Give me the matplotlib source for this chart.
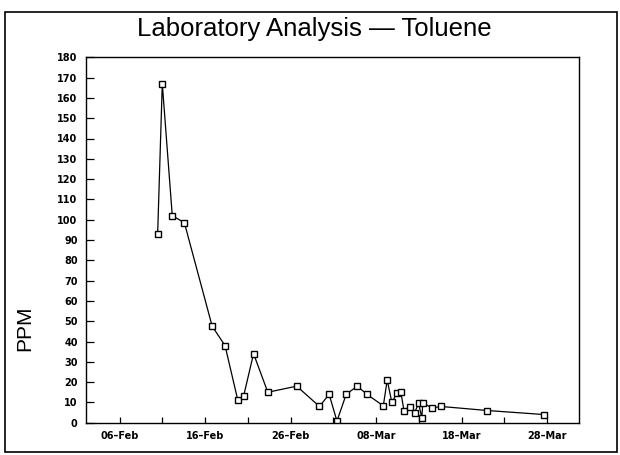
import numpy as np
import matplotlib
matplotlib.use("Agg")
import matplotlib.pyplot as plt
import matplotlib.dates as mdates
from matplotlib.patches import Rectangle
from matplotlib.ticker import FuncFormatter, MultipleLocator

# Sample times and toluene concentration in PPM
sample_times = [
    "1991-02-10 11:00", "1991-02-11 00:00", "1991-02-12 04:00", "1991-02-13 14:00",
    "1991-02-16 20:00", "1991-02-18 08:00", "1991-02-19 20:00", "1991-02-20 12:00",
    "1991-02-21 16:00", "1991-02-23 08:00", "1991-02-26 17:00", "1991-03-01 09:00",
    "1991-03-02 12:00", "1991-03-03 10:00", "1991-03-04 12:00", "1991-03-05 19:00",
    "1991-03-06 22:00", "1991-03-08 20:00", "1991-03-09 07:00", "1991-03-09 20:00",
    "1991-03-10 10:00", "1991-03-10 21:00", "1991-03-11 06:00", "1991-03-11 22:00",
    "1991-03-12 12:00", "1991-03-12 23:00", "1991-03-13 08:00", "1991-03-13 11:00",
    "1991-03-14 12:00", "1991-03-15 14:00", "1991-03-21 00:00", "1991-03-27 16:00",
]
toluene_ppm = [
    93, 167, 102, 98.5,
    47.5, 38, 11, 13,
    34, 15, 18, 8,
    14, 0.8, 14, 18,
    14, 8.3, 21, 10,
    14.5, 15.3, 6, 7.5,
    5, 9.5, 2.5, 9.8,
    7.3, 8, 6, 4,
]

x_start = "1991-02-02 02:00"
x_end = "1991-03-31 17:00"
labeled_days = ["1991-02-06", "1991-02-16", "1991-02-26",
                "1991-03-08", "1991-03-18", "1991-03-28"]

times = np.array(sample_times, dtype="datetime64[m]").astype("O")

fig = plt.figure(figsize=(6.2, 4.55), dpi=100)
fig.patch.set_facecolor("white")

# outer frame round the whole chart
fig.add_artist(Rectangle((5 / 620, 3 / 455), 612 / 620, 440 / 455,
                         transform=fig.transFigure, fill=False,
                         edgecolor="black", linewidth=1.2))

ax = fig.add_axes([86 / 620, 1 - 422.7 / 455, 493 / 620, 365.4 / 455])
ax.plot(times, toluene_ppm, color="black", linewidth=0.9,
        marker="s", markersize=4.8, markerfacecolor="white",
        markeredgecolor="black", markeredgewidth=1.0)

ax.set_xlim(np.datetime64(x_start).astype("O"), np.datetime64(x_end).astype("O"))
ax.set_ylim(0, 180)

ax.yaxis.set_major_locator(MultipleLocator(10))
major_x = [mdates.date2num(np.datetime64(d).astype("O")) for d in labeled_days]
minor_x = [m + 5 for m in major_x[:-1]]
ax.set_xticks(major_x)
ax.set_xticks(minor_x, minor=True)
ax.xaxis.set_major_formatter(FuncFormatter(
    lambda v, p: mdates.num2date(v).strftime("%d\u2013%b")))

for lab in ax.get_xticklabels() + ax.get_yticklabels():
    lab.set_fontfamily("DejaVu Sans")
    lab.set_fontweight("bold")
    lab.set_fontsize(7)

ax.tick_params(axis="y", direction="in", length=6, width=0.9, pad=6,
               right=False)
ax.tick_params(axis="x", which="both", direction="in", length=4, width=0.9,
               pad=6, top=False)
for sp in ax.spines.values():
    sp.set_linewidth(1.0)

fig.text(314 / 620, 1 - 29 / 455, "Laboratory Analysis \u2014 Toluene",
         ha="center", va="center", fontsize=18.5, family="Liberation Sans")
fig.text(25 / 620, 1 - 328 / 455, "PPM", rotation=90, ha="center",
         va="center", fontsize=15, family="Liberation Sans")

fig.savefig("out.png", dpi=100)
